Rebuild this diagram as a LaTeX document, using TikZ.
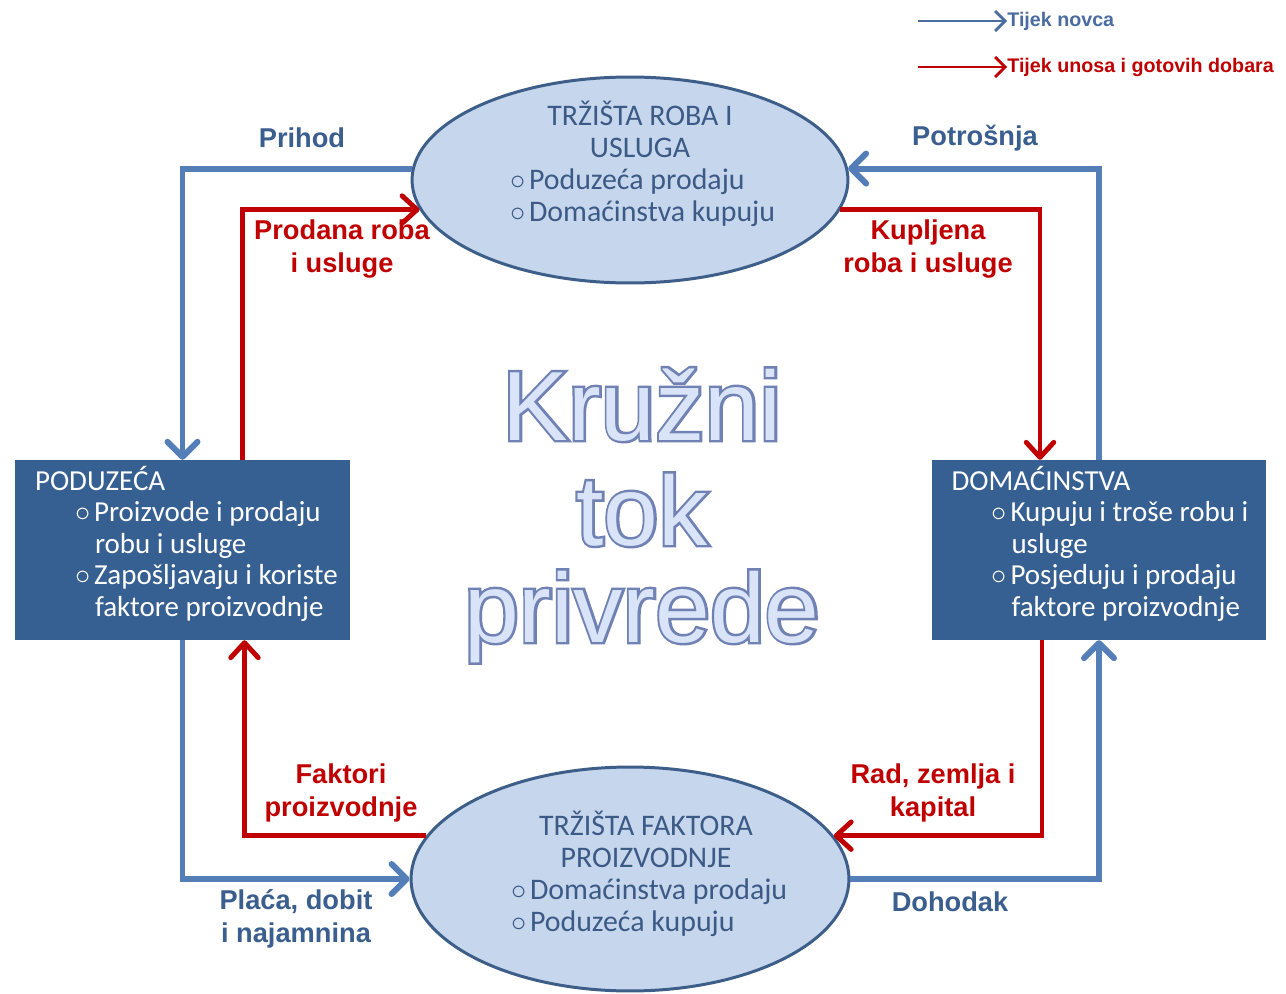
\documentclass[tikz,border=0pt]{standalone}
\usepackage{fontspec}
\setmainfont{Carlito}
\newfontfamily\labelfont{Liberation Sans}
\newfontfamily\titlefont{Liberation Sans}
\newfontfamily\titleedge{Liberation Sans}[FakeBold=5]
\usetikzlibrary{arrows.meta,shapes.geometric,calc}

\definecolor{moneyblue}{RGB}{84,126,184}
\definecolor{keyblue}{RGB}{74,108,160}
\definecolor{goodsred}{RGB}{192,0,0}
\definecolor{boxblue}{RGB}{55,96,146}
\definecolor{ovalfill}{RGB}{198,214,236}
\definecolor{ovaledge}{RGB}{62,94,138}
\definecolor{ovaltext}{RGB}{60,90,134}
\definecolor{labelblue}{RGB}{58,94,142}
\definecolor{titlefill}{RGB}{218,228,248}
\definecolor{titleline}{RGB}{112,130,180}

\newcommand{\bul}{\makebox[0.38cm][l]{$\circ$}}
\newcommand{\boxline}[2]{\makebox[5.9cm][l]{\hspace*{#1}#2}}

\begin{document}
\begin{tikzpicture}[x=0.02cm,y=-0.02cm,
  money/.style={draw=moneyblue,line width=3.4pt,-{Straight Barb[round,length=0.3cm,width=0.6cm]}},
  goods/.style={draw=goodsred,line width=2.8pt,-{Straight Barb[round,length=0.3cm,width=0.55cm]}},
  market/.style={ellipse,draw=ovaledge,line width=1.7pt,fill=ovalfill},
  markettext/.style={text=ovaltext,align=center,inner sep=0,font=\fontsize{17}{18.2}\selectfont},
  sector/.style={rectangle,fill=boxblue,text=white,minimum width=6.7cm,minimum height=3.52cm,
    inner xsep=0.4cm,align=left,font=\fontsize{16.5}{17.9}\selectfont},
  flowlabel/.style={align=center,inner sep=0,font=\labelfont\bfseries\fontsize{15.5}{18.7}\selectfont},
  keylabel/.style={anchor=west,inner sep=0,font=\labelfont\bfseries\fontsize{11.2}{13}\selectfont},
  keyarrow/.style={line width=1.6pt,-{Straight Barb[length=0.2cm,width=0.4cm]}},
  titleback/.style={anchor=base,inner sep=0,text=titleline,font=\titleedge\fontsize{56}{57}\selectfont},
  titlefront/.style={anchor=base,inner sep=0,text=titlefill,font=\titlefont\fontsize{56}{57}\selectfont}]

\fill[white] (0,0) rectangle (1286,994);
\useasboundingbox (0,0) rectangle (1286,994);

\coordinate (moneykey) at (918,21);
\coordinate (goodskey) at (918,67);
\node[keylabel,text=keyblue] (moneytxt) at (1007,21) {Tijek novca};
\node[keylabel,text=goodsred] (goodstxt) at (1007,67) {Tijek unosa i gotovih dobara};
\draw[keyarrow,keyblue] (moneykey) -- (moneytxt.west);
\draw[keyarrow,goodsred] (goodskey) -- (goodstxt.west);

\node[market,minimum width=8.72cm,minimum height=4.12cm] (goodsmkt) at (630,180) {};
\node[markettext] (goodsmkttxt) at (640,164) {TRŽIŠTA ROBA I\\USLUGA\\
  \makebox[5.2cm][l]{\bul Poduzeća prodaju}\\\makebox[5.2cm][l]{\bul Domaćinstva kupuju}};

\node[market,minimum width=8.76cm,minimum height=4.48cm] (factmkt) at (630,879) {};
\node[markettext] (factmkttxt) at (646,874) {TRŽIŠTA FAKTORA\\PROIZVODNJE\\
  \makebox[5.4cm][l]{\bul Domaćinstva prodaju}\\\makebox[5.4cm][l]{\bul Poduzeća kupuju}};

\node[sector] (firms) at (182.5,550) {\boxline{0cm}{PODUZEĆA}\\
  \boxline{0.8cm}{\bul Proizvode i prodaju}\\
  \boxline{1.2cm}{robu i usluge}\\
  \boxline{0.8cm}{\bul Zapošljavaju i koriste}\\
  \boxline{1.2cm}{faktore proizvodnje}\rule[-0.36cm]{0pt}{0pt}};
\node[sector] (homes) at (1099,550) {\boxline{0cm}{DOMAĆINSTVA}\\
  \boxline{0.8cm}{\bul Kupuju i troše robu i}\\
  \boxline{1.2cm}{usluge}\\
  \boxline{0.8cm}{\bul Posjeduju i prodaju}\\
  \boxline{1.2cm}{faktore proizvodnje}\rule[-0.36cm]{0pt}{0pt}};

\draw[money] (goodsmkt.177) -| (firms.north);
\draw[money] (homes.north) |- (goodsmkt.3);
\draw[money] (firms.south) |- (factmkt.west);
\draw[money] (factmkt.east) -| (homes.south);

\draw[goods] ($(firms.north)+(60,0)$) |- (goodsmkt.188);
\draw[goods] (goodsmkt.352) -| ($(homes.north)+(-59,0)$);
\draw[goods] ($(homes.south)+(-57,0)$) |- (factmkt.12);
\draw[goods] (factmkt.168) -| ($(firms.south)+(62,0)$);

\node[flowlabel,text=labelblue] (prihod) at (302,138) {Prihod};
\node[flowlabel,text=labelblue] (potrosnja) at (975,138) {Potrošnja};
\node[flowlabel,text=goodsred] (prodana) at (342,249) {Prodana roba\\i usluge};
\node[flowlabel,text=goodsred] (kupljena) at (928,249) {Kupljena\\roba i usluge};
\node[flowlabel,text=goodsred] (faktori) at (341,793) {Faktori\\proizvodnje};
\node[flowlabel,text=goodsred] (rad) at (933,793) {Rad, zemlja i\\kapital};
\node[flowlabel,text=labelblue] (placa) at (296,919) {Plaća, dobit\\i najamnina};
\node[flowlabel,text=labelblue] (dohodak) at (950,902) {Dohodak};

\foreach \word/\yy [count=\i] in {Kružni/440,tok/545,privrede/642}{
  \node[titleback] (kback\i) at (642,\yy) {\word};
  \node[titlefront] (kfront\i) at (642,\yy) {\word};
}

\end{tikzpicture}
\end{document}
